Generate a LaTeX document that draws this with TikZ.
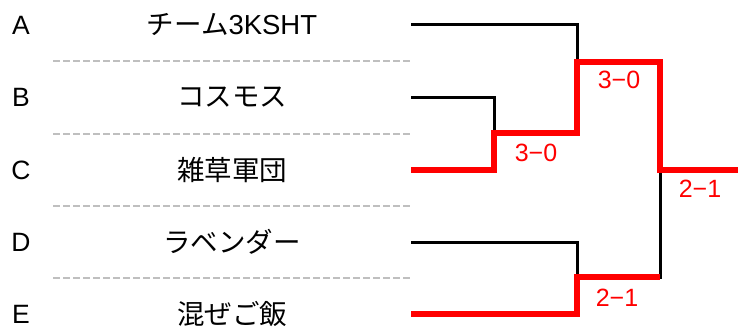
\documentclass[tikz,border=0pt]{standalone}
\usepackage{fontspec}
\setmainfont{Liberation Sans}
\newfontfamily\jpfont{Noto Sans CJK JP}
\definecolor{winred}{RGB}{255,0,0}
\definecolor{sepgrey}{RGB}{191,191,191}
\begin{document}
\begin{tikzpicture}[x=1pt,y=-1pt,
  letter/.style={font=\fontsize{26.5}{26.5}\selectfont, inner sep=0pt, anchor=center},
  team/.style={font=\fontsize{27.5}{27.5}\selectfont, inner sep=0pt, anchor=center},
  score/.style={font=\fontsize{25}{25}\selectfont, text=winred, inner sep=0pt, anchor=center},
  sep/.style={draw=sepgrey, line width=2.5pt, dash pattern=on 7pt off 3pt},
  lose/.style={draw=black, line width=3pt},
  win/.style={draw=winred, line width=5.5pt}]
\useasboundingbox (0,0) rectangle (738,329);
% letters
\node[letter] (la) at (21,25) {A};
\node[letter] (lb) at (21,97) {B};
\node[letter] (lc) at (21,170) {C};
\node[letter] (ld) at (21,242) {D};
\node[letter] (le) at (21,314) {E};
% team names
\node[team] (ta) at (232,25) {{\jpfont チーム}3KSHT};
\node[team] (tb) at (232,97) {\jpfont コスモス};
\node[team] (tc) at (232,170) {\jpfont 雑草軍団};
\node[team] (td) at (232,242) {\jpfont ラベンダー};
\node[team] (te) at (232,314) {\jpfont 混ぜご飯};
% separators
\coordinate (s1a) at (53,61);  \coordinate (s1b) at (413,61);
\coordinate (s2a) at (53,134); \coordinate (s2b) at (413,134);
\coordinate (s3a) at (53,206); \coordinate (s3b) at (413,206);
\coordinate (s4a) at (53,278); \coordinate (s4b) at (413,278);
\draw[sep] (s1a) -- (s1b);
\draw[sep] (s2a) -- (s2b);
\draw[sep] (s3a) -- (s3b);
\draw[sep] (s4a) -- (s4b);
% bracket anchor points
\coordinate (pa) at (411,25);
\coordinate (pb) at (411,97);
\coordinate (pc) at (411,170);
\coordinate (pd) at (411,242);
\coordinate (pe) at (411,314);
\coordinate (m1) at (494,133);
\coordinate (m2) at (577,62);
\coordinate (m3) at (577,277);
\coordinate (f) at (660,170);
\coordinate (fb) at (660,277);
\coordinate (champ) at (738,170);
% losers (black)
\draw[lose] (pa) -| (m2);
\draw[lose] (pb) -| (m1);
\draw[lose] (pd) -| (m3);
\draw[lose] (f) -- (fb) -- (m3);
% winners (red)
\draw[win, line join=miter] (pc) -| (m1) -| (m2) -| (f) -- (champ);
\draw[win, line join=miter] (pe) -| (m3) -- (fb);
% scores
\node[score] (sc1) at (536,153) {3−0};
\node[score] (sc2) at (619,80) {3−0};
\node[score] (sc3) at (617,298) {2−1};
\node[score] (sc4) at (700,189) {2−1};
\end{tikzpicture}
\end{document}
